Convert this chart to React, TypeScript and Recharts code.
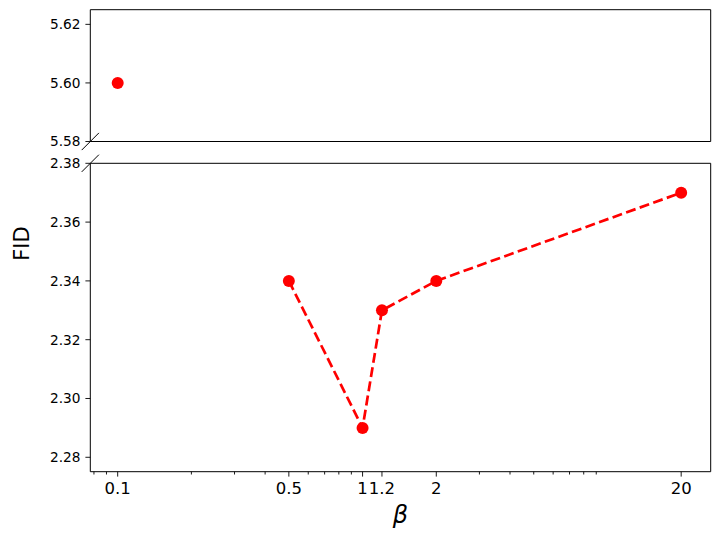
import type { FC } from "react";
import { LineChart, Line, XAxis, YAxis, ReferenceArea } from "recharts";

// data
const betaValues = [0.1, 0.5, 1, 1.2, 2, 20];
const fidValues = [5.6, 2.34, 2.29, 2.33, 2.34, 2.37];

// axis ticks
const majorTicks = [0.1, 0.5, 1, 1.2, 2, 20];
const minorTicks = [0.08, 0.09, 0.2, 0.3, 0.4, 0.6, 0.7, 0.8, 0.9, 3, 4, 5, 6, 7, 8, 9];
const upperTicks = [5.58, 5.6, 5.62];
const lowerTicks = [2.28, 2.3, 2.32, 2.34, 2.36, 2.38];

const upperDomain: [number, number] = [5.58, 5.625];
const lowerDomain: [number, number] = [2.2751, 2.38];
const xDomain: [number, number] = [0.0773, 26.4];
const breakAt = 4;

const W = 719;
const H = 537;
const plotLeft = 90.3;
const plotRight = 710.7;
const upperTop = 9.7;
const upperBottom = 141.5;
const lowerTop = 163.3;
const lowerBottom = 471.7;

const RED = "#ff0000";
const FONT = "'DejaVu Sans', sans-serif";

const points = betaValues.map((b, i) => ({ beta: b, fid: fidValues[i] }));
const upperData = points.filter((p) => p.fid > breakAt);
const lowerData = points.filter((p) => p.fid <= breakAt);

const allXTicks = [...majorTicks, ...minorTicks].sort((a, b) => a - b);

const XTick: FC<any> = ({ x, y, payload }) => {
  const major = majorTicks.includes(payload.value);
  const fs = 16.5;
  return (
    <g>
      <line x1={x} x2={x} y1={y} y2={y + (major ? 4.9 : 2.8)} stroke="#000" strokeWidth={0.9} />
      {major && (
        <text x={x} y={y + 9.8 + 0.73 * fs} textAnchor="middle" fontSize={fs} fontFamily={FONT} fill="#000">
          {String(payload.value)}
        </text>
      )}
    </g>
  );
};

const yTickStyle = { fontSize: 13.7, fontFamily: FONT, fill: "#000" };

const lineProps = {
  type: "linear" as const,
  dataKey: "fid",
  stroke: RED,
  strokeWidth: 2.7,
  strokeDasharray: "10 4.4",
  dot: { r: 6, fill: RED, stroke: RED, strokeWidth: 0 },
  isAnimationActive: false,
};

const App: FC = () => {
  const d = 8.6;
  return (
    <div style={{ position: "absolute", left: 0, top: 0, width: W, height: H, background: "#fff" }}>
      <div style={{ position: "absolute", left: 0, top: 0 }}>
        <LineChart
          width={W}
          height={H}
          data={upperData}
          margin={{ top: upperTop, right: W - plotRight, bottom: H - upperBottom, left: 0 }}
        >
          <XAxis dataKey="beta" type="number" scale="log" domain={xDomain} allowDataOverflow hide />
          <YAxis
            type="number"
            domain={upperDomain}
            ticks={upperTicks}
            allowDataOverflow
            width={plotLeft}
            axisLine={false}
            tickSize={4.9}
            tickMargin={4.9}
            tickLine={{ stroke: "#000", strokeWidth: 0.9 }}
            tick={yTickStyle}
            tickFormatter={(v: number) => v.toFixed(2)}
          />
          <ReferenceArea
            x1={xDomain[0]}
            x2={xDomain[1]}
            y1={upperDomain[0]}
            y2={upperDomain[1]}
            fill="none"
            stroke="#000"
            strokeWidth={1}
            ifOverflow="visible"
          />
          <Line {...lineProps} />
        </LineChart>
      </div>
      <div style={{ position: "absolute", left: 0, top: 0 }}>
        <LineChart
          width={W}
          height={H}
          data={lowerData}
          margin={{ top: lowerTop, right: W - plotRight, bottom: 0, left: 0 }}
        >
          <XAxis
            dataKey="beta"
            type="number"
            scale="log"
            domain={xDomain}
            allowDataOverflow
            ticks={allXTicks}
            interval={0}
            height={H - lowerBottom}
            axisLine={false}
            tickLine={false}
            tickSize={0}
            tickMargin={0}
            tick={<XTick />}
          />
          <YAxis
            type="number"
            domain={lowerDomain}
            ticks={lowerTicks}
            allowDataOverflow
            width={plotLeft}
            axisLine={false}
            tickSize={4.9}
            tickMargin={4.9}
            tickLine={{ stroke: "#000", strokeWidth: 0.9 }}
            tick={yTickStyle}
            tickFormatter={(v: number) => v.toFixed(2)}
          />
          <ReferenceArea
            x1={xDomain[0]}
            x2={xDomain[1]}
            y1={lowerDomain[0]}
            y2={lowerDomain[1]}
            fill="none"
            stroke="#000"
            strokeWidth={1}
            ifOverflow="visible"
          />
          <Line {...lineProps} />
        </LineChart>
      </div>
      <svg
        width={W}
        height={H}
        style={{ position: "absolute", left: 0, top: 0, pointerEvents: "none" }}
      >
        {/* axis break marks */}
        <line x1={plotLeft - d} y1={upperBottom + d} x2={plotLeft + d} y2={upperBottom - d} stroke="#000" strokeWidth={1} />
        <line x1={plotLeft - d} y1={lowerTop + d} x2={plotLeft + d} y2={lowerTop - d} stroke="#000" strokeWidth={1} />
        <text
          x={0}
          y={0}
          transform={`translate(29.3, 243.6) rotate(-90)`}
          textAnchor="middle"
          fontSize={21}
          fontFamily={FONT}
          fill="#000"
        >
          FID
        </text>
        <text
          x={(plotLeft + plotRight) / 2}
          y={522.5}
          textAnchor="middle"
          fontSize={24}
          fontStyle="italic"
          fontFamily={FONT}
          fill="#000"
        >
          β
        </text>
      </svg>
    </div>
  );
};

export default App;
